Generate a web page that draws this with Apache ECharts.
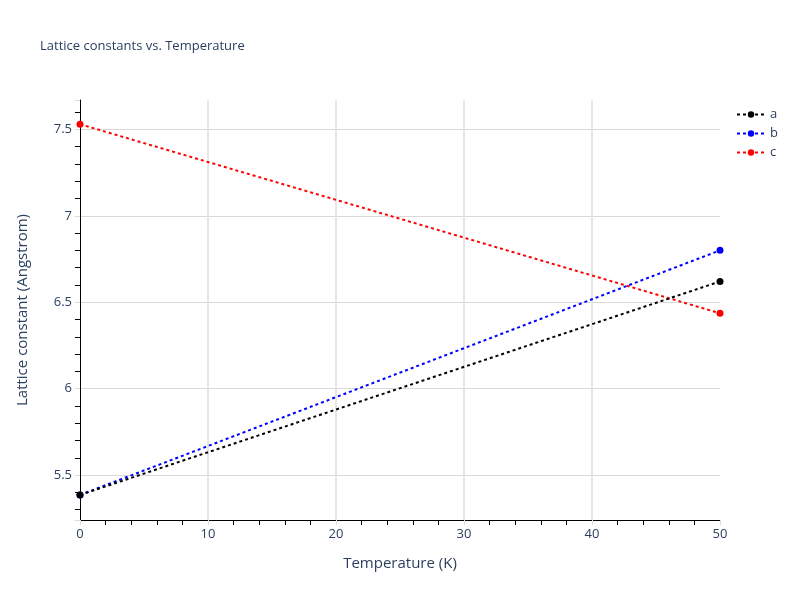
<!DOCTYPE html>
<html>
<head>
<meta charset="utf-8">
<script src="https://cdn.jsdelivr.net/npm/echarts@6/dist/echarts.min.js"></script>
<style>html,body{margin:0;padding:0;background:#fff}#chart{width:800px;height:600px}</style>
</head>
<body>
<div id="chart"></div>
<script>
const temperatures = [0, 50];
const seriesNames = ['a', 'b', 'c'];
const seriesColors = ['#000000', '#0000ff', '#ff0000'];
const aValues = [5.385, 6.62];
const bValues = [5.385, 6.80];
const cValues = [7.53, 6.436];
const allValues = [aValues, bValues, cValues];

const textColor = '#2a3f5f';
const font = '"Open Sans", "Noto Sans", sans-serif';

const chart = echarts.init(document.getElementById('chart'), null, {renderer: 'canvas'});
chart.setOption({
  animation: false,
  backgroundColor: '#ffffff',
  title: {
    text: 'Lattice constants vs. Temperature',
    left: 40, top: 40, padding: 0,
    textStyle: {fontFamily: font, fontSize: 13, fontWeight: 'normal', color: textColor}
  },
  legend: {
    orient: 'vertical', left: 736, top: 108, padding: 0,
    itemWidth: 28, itemHeight: 8, itemGap: 6,
    textStyle: {fontFamily: font, fontSize: 13, color: textColor},
    data: seriesNames
  },
  grid: {left: 80, right: 80, top: 100, bottom: 80, containLabel: false},
  xAxis: {
    type: 'value', min: 0, max: 50, interval: 10,
    name: 'Temperature (K)', nameLocation: 'middle', nameGap: 36,
    nameTextStyle: {fontFamily: font, fontSize: 15, color: textColor},
    axisLine: {show: true, onZero: false, lineStyle: {color: '#000', width: 1}},
    axisTick: {show: true, inside: false, length: 5, lineStyle: {color: '#ddd', width: 1}},
    minorTick: {show: true, splitNumber: 5, length: 5, lineStyle: {color: '#000', width: 1}},
    axisLabel: {fontFamily: font, fontSize: 13, color: textColor, margin: 8},
    splitLine: {show: true, showMinLine: false, showMaxLine: false, lineStyle: {color: '#e6e6e6', width: 2}}
  },
  yAxis: {
    type: 'value', min: 5.24, max: 7.67, splitNumber: 5,
    name: 'Lattice constant (Angstrom)', nameLocation: 'middle', nameGap: 50,
    nameTextStyle: {fontFamily: font, fontSize: 15, color: textColor},
    axisLine: {show: true, onZero: false, lineStyle: {color: '#000', width: 1}},
    axisTick: {show: true, inside: false, length: 5, lineStyle: {color: '#ddd', width: 1}},
    minorTick: {show: true, splitNumber: 5, length: 5, lineStyle: {color: '#000', width: 1}},
    axisLabel: {fontFamily: font, fontSize: 13, color: textColor, margin: 8, showMinLabel: false, showMaxLabel: false},
    splitLine: {show: true, showMinLine: false, showMaxLine: false, lineStyle: {color: '#d9d9d9', width: 1}}
  },
  series: seriesNames.map((name, i) => ({
    name: name,
    type: 'line',
    data: temperatures.map((t, j) => [t, allValues[i][j]]),
    symbol: 'circle', symbolSize: 7,
    showSymbol: true,
    itemStyle: {color: seriesColors[i]},
    lineStyle: {color: seriesColors[i], width: 2, type: [3, 3]},
    clip: false,
    z: 3 - i + 2
  }))
});
</script>
</body>
</html>
